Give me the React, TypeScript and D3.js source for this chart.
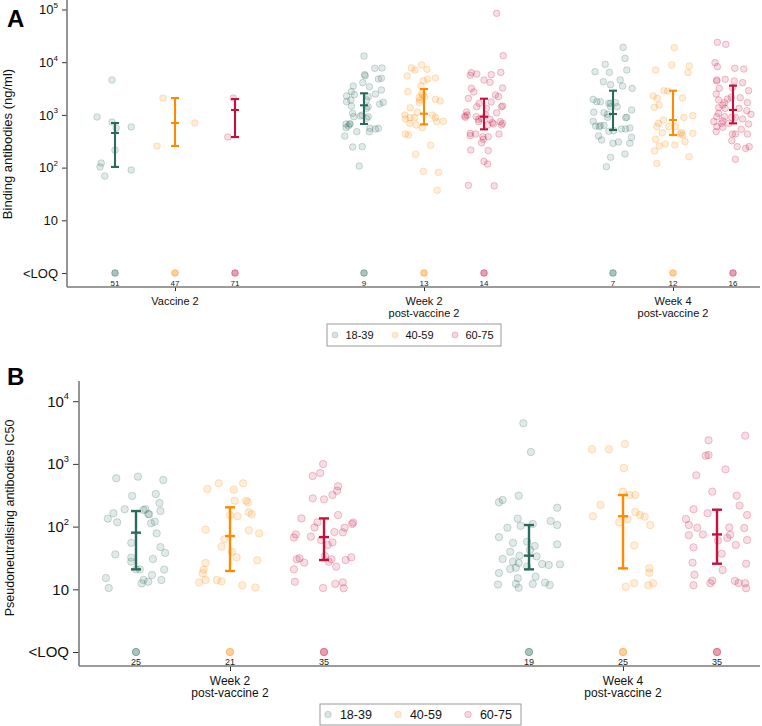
import React, { useEffect, useRef } from "react";
import * as d3 from "d3";

const FONT = "'Liberation Sans', Arial, Helvetica, sans-serif";

const ageGroups = ["18-39", "40-59", "60-75"];
const ageColors = ["#2b6b5e", "#ff8a00", "#c8103e"];

// ---- Panel A: binding antibodies (ng/ml) ----
const bindingVisits = [["Vaccine 2"], ["Week 2", "post-vaccine 2"], ["Week 4", "post-vaccine 2"]];
const bindingLoqCounts = [[51, 47, 71], [9, 13, 14], [7, 12, 16]];
const bindingMedian = [[454, 702, 1240], [1520, 1055, 925], [1040, 800, 1240]];
const bindingQ1 = [[103, 257, 380], [672, 662, 532], [517, 415, 691]];
const bindingQ3 = [[702, 2090, 2000], [2570, 3100, 2030], [2880, 2880, 3590]];

// points are [jitter, value]
const bindingV2_18 = [[-0.3, 912], [-0.05, 4600], [-0.05, 733], [0.02, 565], [0.27, 590], [0, 215], [-0.23, 122], [-0.25, 103], [-0.17, 69], [0.27, 90]];
const bindingV2_40 = [[-0.2, 2090], [-0.3, 257], [0.33, 702]];
const bindingV2_60 = [[-0.03, 2090], [-0.12, 380]];

const bindingW2_18 = [[0, 13100], [0.18, 7650], [0.3, 7760], [0.01, 5800], [0.02, 5540], [0.24, 4800], [0.29, 4940], [-0.02, 4090], [-0.18, 3530], [0.09, 3430], [-0.21, 2760], [-0.16, 2420], [-0.29, 2290], [0.29, 2970], [0.19, 2490], [-0.22, 1920], [-0.29, 1780], [0.07, 2220], [0.04, 1920], [0.32, 1730], [0.26, 1610], [0.07, 1430], [-0.21, 1470], [0.04, 1330], [-0.19, 1070], [-0.03, 995], [-0.17, 925], [0.04, 861], [0.07, 925], [-0.06, 953], [-0.24, 672], [-0.3, 672], [-0.26, 615], [0.1, 556], [0.24, 556], [0.19, 540], [-0.3, 573], [0.09, 481], [-0.12, 481], [-0.32, 398], [-0.19, 246], [-0.03, 250], [-0.08, 107], [-0.23, 672]];
const bindingW2_40 = [[-0.04, 8850], [-0.21, 7760], [-0.15, 7110], [0.05, 7330], [-0.28, 5470], [0.19, 5010], [-0.01, 4460], [0.06, 4730], [-0.05, 3530], [-0.27, 2760], [-0.04, 2570], [-0.08, 2150], [-0.07, 1920], [-0.08, 1710], [0.19, 1970], [0.27, 1840], [-0.23, 1370], [-0.11, 1120], [-0.32, 995], [-0.31, 836], [-0.23, 887], [-0.16, 887], [0.14, 995], [0.19, 887], [0.21, 744], [0.32, 755], [-0.24, 691], [-0.13, 643], [-0.03, 573], [-0.31, 434], [-0.26, 415], [0.11, 265], [-0.14, 179], [-0.01, 85], [0.24, 81], [0.22, 37], [-0.02, 2390], [0.01, 2220]];
const bindingW2_60 = [[0.21, 84600], [0.32, 13300], [-0.21, 6330], [-0.12, 5970], [-0.23, 5640], [0.28, 6410], [0, 4590], [0.12, 5800], [0.1, 4150], [0.31, 3240], [-0.21, 3190], [-0.17, 2720], [0.19, 2390], [-0.26, 2060], [0.12, 1760], [0.24, 2220], [-0.08, 1660], [-0.12, 1430], [0.31, 1470], [0.29, 1430], [0.04, 1330], [-0.29, 1135], [-0.32, 953], [-0.13, 925], [-0.09, 824], [0.1, 824], [0.21, 1100], [-0.28, 995], [0.03, 995], [0.27, 744], [0.29, 643], [0.31, 691], [0.14, 711], [0.06, 643], [-0.09, 744], [-0.23, 447], [-0.14, 434], [-0.02, 386], [0.07, 386], [-0.23, 404], [0.25, 434], [-0.01, 344], [-0.04, 297], [-0.22, 216], [0.07, 210], [0, 131], [0.06, 117], [-0.26, 46], [0.17, 45], [-0.04, 861], [0.16, 672], [-0.31, 899]];

const bindingW4_18 = [[0.17, 19100], [0.2, 11800], [-0.13, 9110], [-0.3, 6610], [-0.06, 6420], [0.23, 7110], [-0.16, 4270], [0.12, 4590], [0.16, 3530], [-0.04, 3750], [0.32, 3190], [-0.33, 1970], [-0.27, 1780], [-0.21, 1780], [-0.07, 1660], [-0.04, 1660], [0.07, 1430], [-0.04, 1430], [0.04, 1710], [0.31, 1240], [-0.32, 1120], [-0.15, 1100], [-0.09, 899], [0.21, 887], [0.23, 899], [-0.33, 755], [-0.29, 615], [-0.21, 625], [-0.23, 598], [-0.15, 634], [-0.07, 488], [0.01, 502], [0.14, 540], [0.21, 540], [0.28, 564], [-0.24, 398], [-0.19, 334], [0.31, 375], [0, 289], [0.09, 306], [0.28, 289], [0.2, 181], [-0.04, 157], [-0.11, 104], [-0.09, 1025]];
const bindingW4_40 = [[0.02, 18900], [-0.02, 8850], [-0.29, 7110], [0.27, 8470], [0.25, 6330], [-0.15, 2880], [-0.09, 2840], [-0.33, 2290], [-0.26, 2060], [0.16, 2090], [-0.23, 1540], [-0.31, 1390], [0.18, 899], [0.33, 967], [-0.16, 800], [-0.24, 691], [-0.27, 598], [-0.07, 598], [0.04, 598], [-0.18, 460], [0.14, 460], [0.16, 415], [0.12, 434], [0.33, 447], [-0.29, 344], [-0.23, 257], [-0.13, 281], [0.03, 268], [0.2, 311], [-0.31, 207], [0.27, 161], [-0.27, 120]];
const bindingW4_60 = [[-0.26, 23800], [-0.12, 21800], [-0.3, 9800], [-0.26, 8230], [0.03, 7650], [0.18, 7430], [-0.27, 4590], [-0.13, 4730], [0.02, 4400], [0.16, 4090], [-0.23, 3190], [-0.01, 3290], [-0.28, 2490], [-0.03, 2150], [0.26, 2880], [-0.24, 1920], [-0.14, 1710], [-0.09, 2000], [0.12, 2120], [-0.24, 1370], [-0.13, 1330], [-0.17, 1540], [-0.24, 1070], [-0.27, 925], [-0.14, 925], [-0.02, 899], [0.1, 1330], [0.23, 1200], [0.24, 1710], [0.3, 1025], [-0.32, 744], [-0.17, 766], [-0.07, 691], [0.04, 899], [0.16, 836], [0.26, 672], [-0.27, 598], [-0.17, 581], [-0.28, 481], [-0.01, 434], [0.04, 434], [0.24, 434], [0.14, 532], [-0.02, 324], [0.07, 250], [0.27, 250], [0.21, 232], [0.04, 144], [-0.19, 691], [-0.27, 4400]];

// ---- Panel B: pseudoneutralising antibodies IC50 ----
const neutVisits = [["Week 2", "post-vaccine 2"], ["Week 4", "post-vaccine 2"]];
const neutLoqCounts = [[25, 21, 35], [19, 25, 35]];
const neutMedian = [[80, 70.8, 68], [34.4, 146, 75]];
const neutQ1 = [[20.8, 19.6, 29.3], [20.8, 21.6, 25.6]];
const neutQ3 = [[177, 203, 135], [106, 319, 186]];

const neutW2_18 = [[-0.21, 589], [0.02, 626], [0.29, 554], [-0.04, 308], [0.21, 331], [0.25, 238], [-0.12, 189], [-0.24, 163], [-0.3, 134], [-0.2, 117], [0.08, 184], [0.1, 189], [0.13, 159], [0.14, 157], [0.26, 177], [0.16, 113], [0.2, 120], [0.22, 78], [-0.05, 55], [0.26, 47], [0.31, 38], [-0.22, 36], [-0.05, 32], [-0.05, 27.6], [0.18, 30.4], [0.3, 20.6], [0.04, 20.8], [0, 20.8], [0.17, 16.9], [0.08, 14.1], [0.06, 12.4], [0.13, 13.2], [0.27, 14.1], [-0.32, 15.1], [-0.29, 10.5]];
const neutW2_40 = [[-0.12, 490], [0.14, 490], [-0.24, 398], [0.04, 388], [0.05, 259], [0.17, 259], [0.19, 244], [0, 153], [0.08, 146], [0.2, 169], [0.23, 157], [-0.26, 89], [0.2, 87], [0.31, 78], [-0.06, 62.7], [-0.09, 47.9], [0.02, 39.8], [0.07, 32.4], [-0.26, 26.3], [0.29, 29], [-0.28, 20.6], [-0.29, 18], [-0.26, 14.1], [-0.33, 12.9], [-0.14, 14.1], [-0.09, 13.4], [0.13, 11.6], [0.27, 10.7]];
const neutW2_60 = [[-0.01, 996], [-0.04, 716], [-0.12, 641], [0.15, 439], [0.14, 374], [0.09, 319], [-0.12, 282], [0, 272], [0.15, 153], [-0.24, 135], [-0.07, 117], [-0.1, 97], [0.31, 116], [0.3, 110], [0.11, 82], [0.2, 81], [0.22, 96], [-0.3, 75], [-0.32, 67], [-0.14, 69], [-0.03, 61], [0.09, 56], [0.04, 51], [-0.29, 30.1], [-0.26, 31.2], [-0.21, 26.6], [0.01, 34], [0.08, 30.1], [0.23, 29.3], [0.29, 32.4], [0.05, 27.6], [0.13, 23], [-0.32, 20.8], [-0.31, 13.2], [-0.01, 10.5], [0.12, 12.2], [0.2, 12.9], [0.21, 10.4]];

const neutW4_18 = [[-0.06, 4440], [0.02, 1549], [-0.11, 311], [-0.32, 244], [-0.28, 266], [0.3, 200], [-0.12, 134], [0.23, 123], [0.3, 106], [-0.09, 103], [0.04, 110], [-0.23, 96], [-0.32, 68], [-0.17, 55], [-0.02, 57.5], [0.06, 49], [0.3, 52], [-0.2, 39.8], [0.01, 42.4], [0.08, 33.5], [-0.1, 34.4], [-0.28, 30.4], [-0.17, 27.6], [-0.11, 26.3], [0.14, 25.3], [0.21, 24.4], [0.33, 25], [-0.2, 21.1], [-0.14, 22.1], [-0.02, 23], [-0.32, 18.2], [-0.12, 15], [0.07, 15.9], [-0.33, 11.9], [-0.14, 12.2], [-0.11, 10.6], [0.04, 12.2], [0.17, 12.8], [0.22, 11.7]];
const neutW4_40 = [[-0.33, 1708], [-0.15, 1708], [0.02, 2077], [0.01, 860], [0, 361], [0.07, 319], [0.13, 319], [-0.24, 221], [-0.32, 146], [0.13, 171], [0.18, 153], [0.23, 144], [0.05, 131], [-0.04, 117], [0.29, 106], [0.12, 50], [0.28, 21.6], [0.28, 18.4], [0.03, 11], [0.12, 12.5], [0.27, 11.6], [0.32, 12.5]];
const neutW4_60 = [[0.3, 2820], [-0.09, 2377], [-0.12, 1353], [-0.09, 1387], [0.09, 819], [-0.22, 657], [-0.05, 361], [0.21, 311], [0.24, 216], [-0.25, 189], [-0.1, 163], [0.32, 153], [-0.33, 132], [-0.3, 106], [-0.21, 96], [0.13, 97], [0.29, 95], [-0.3, 73], [-0.15, 75], [0.01, 60], [0.11, 66], [0.14, 74], [0.32, 61], [0.2, 51], [-0.25, 46.7], [0.05, 37], [-0.26, 26.6], [0.06, 20.3], [0.31, 25.6], [-0.24, 17.1], [-0.25, 11.6], [-0.07, 12.5], [-0.05, 13.7], [0.19, 13.6], [0.23, 12.6], [0.3, 12.5], [0.31, 10.4]];

const panels = [
  {
    label: "A", labelY: 27,
    title: "Binding antibodies (ng/ml)", titleX: 11.5, titleY: 144, titleFont: 13,
    axisX: 67, axisTop: 0, axisBottom: 287, right: 760,
    loqY: 273, topTickY: 9.5, maxTick: 1e5,
    xRange: [175, 673], groupStep: 60,
    visits: bindingVisits,
    points: [[bindingV2_18, bindingV2_40, bindingV2_60], [bindingW2_18, bindingW2_40, bindingW2_60], [bindingW4_18, bindingW4_40, bindingW4_60]],
    median: bindingMedian, q1: bindingQ1, q3: bindingQ3, counts: bindingLoqCounts,
    tickLen: 5, tickFont: 13, catFont: 11, catY: 304.5, catLine: 12, countFont: 8, countY: 285.5,
    r: 3.3, capHalf: 4, barWidth: 2.1,
    legend: { x: 327, y: 324, w: 174, h: 22, step: 60, font: 11, r: 3 },
  },
  {
    label: "B", labelY: 385,
    title: "Pseudoneutralising antibodies IC50", titleX: 13.5, titleY: 518, titleFont: 12.5,
    axisX: 79, axisTop: 381, axisBottom: 666, right: 760,
    loqY: 652, topTickY: 401.2, maxTick: 1e4,
    xRange: [230, 623], groupStep: 94,
    visits: neutVisits,
    points: [[neutW2_18, neutW2_40, neutW2_60], [neutW4_18, neutW4_40, neutW4_60]],
    median: neutMedian, q1: neutQ1, q3: neutQ3, counts: neutLoqCounts,
    tickLen: 6, tickFont: 15, catFont: 12, catY: 684.5, catLine: 12.5, countFont: 9, countY: 665,
    r: 3.7, capHalf: 5, barWidth: 2.4,
    legend: { x: 320, y: 704, w: 201, h: 21, step: 70, font: 12.5, r: 3.3 },
  },
];

function drawPanel(svg: any, p: any) {
  const g = svg.append("g");
  const y = d3.scaleLog().domain([1, p.maxTick]).range([p.loqY, p.topTickY]);
  const x = d3.scalePoint<number>().domain(d3.range(p.visits.length)).range(p.xRange);
  const off = d3.scalePoint<string>().domain(ageGroups).range([-p.groupStep, p.groupStep]);
  const ticks = d3.range(0, Math.round(Math.log10(p.maxTick)) + 1).map((e) => Math.pow(10, e));

  // y axis
  const yAxis = g.append("g").attr("transform", `translate(${p.axisX},0)`)
    .call(d3.axisLeft(y).tickValues(ticks).tickSize(p.tickLen).tickFormat(() => ""));
  yAxis.select(".domain").remove();
  yAxis.selectAll(".tick text").remove();
  yAxis.selectAll(".tick line").attr("stroke", "#333").attr("stroke-width", 1);

  ticks.forEach((t) => {
    const e = Math.round(Math.log10(t));
    const txt = g.append("text")
      .attr("x", p.axisX - p.tickLen - 4)
      .attr("y", y(t))
      .attr("dy", "0.36em")
      .attr("text-anchor", "end")
      .attr("font-size", p.tickFont)
      .attr("fill", "#111");
    if (e === 0) txt.text("<LOQ");
    else if (e === 1) txt.text("10");
    else {
      txt.append("tspan").text("10");
      txt.append("tspan").attr("font-size", p.tickFont * 0.62).attr("dy", -p.tickFont * 0.48).text(String(e));
    }
  });

  // x axis ticks
  const xAxis = g.append("g").attr("transform", `translate(0,${p.axisBottom})`)
    .call(d3.axisBottom(x).tickSize(p.tickLen - 1).tickFormat(() => ""));
  xAxis.select(".domain").remove();
  xAxis.selectAll(".tick line").attr("stroke", "#333");

  // axis lines
  g.append("line").attr("x1", p.axisX).attr("x2", p.axisX).attr("y1", p.axisTop).attr("y2", p.axisBottom)
    .attr("stroke", "#7a7a7a").attr("stroke-width", 1.6);
  g.append("line").attr("x1", p.axisX).attr("x2", p.right).attr("y1", p.axisBottom).attr("y2", p.axisBottom)
    .attr("stroke", "#7a7a7a").attr("stroke-width", 1.6);

  // category labels
  p.visits.forEach((lines: string[], i: number) => {
    lines.forEach((ln, li) => {
      g.append("text")
        .attr("x", x(i))
        .attr("y", p.catY + li * p.catLine)
        .attr("text-anchor", "middle")
        .attr("font-size", p.catFont)
        .attr("fill", "#111")
        .text(ln);
    });
  });

  // jittered points
  p.visits.forEach((_: any, i: number) => {
    ageGroups.forEach((age, j) => {
      const cx0 = (x(i) as number) + (off(age) as number);
      g.append("g").selectAll("circle")
        .data(p.points[i][j])
        .join("circle")
        .attr("cx", (d: number[]) => cx0 + d[0] * p.groupStep)
        .attr("cy", (d: number[]) => y(d[1]))
        .attr("r", p.r)
        .attr("fill", ageColors[j])
        .attr("fill-opacity", 0.14)
        .attr("stroke", ageColors[j])
        .attr("stroke-opacity", 0.26)
        .attr("stroke-width", 0.9);
    });
  });

  // median and IQR bars, LOQ dots, counts
  p.visits.forEach((_: any, i: number) => {
    ageGroups.forEach((age, j) => {
      const cx = (x(i) as number) + (off(age) as number);
      const col = ageColors[j];
      const yq1 = y(p.q1[i][j]);
      const yq3 = y(p.q3[i][j]);
      const ym = y(p.median[i][j]);
      const bar = g.append("g").attr("stroke", col).attr("stroke-width", p.barWidth);
      bar.append("line").attr("x1", cx).attr("x2", cx).attr("y1", yq1).attr("y2", yq3);
      [yq1, yq3, ym].forEach((yy) => {
        bar.append("line").attr("x1", cx - p.capHalf).attr("x2", cx + p.capHalf).attr("y1", yy).attr("y2", yy);
      });

      g.append("circle")
        .attr("cx", cx).attr("cy", p.loqY).attr("r", p.r)
        .attr("fill", col).attr("fill-opacity", 0.4)
        .attr("stroke", col).attr("stroke-opacity", 0.5).attr("stroke-width", 0.9);
      g.append("text")
        .attr("x", cx).attr("y", p.countY)
        .attr("text-anchor", "middle")
        .attr("font-size", p.countFont)
        .attr("fill", "#222")
        .text(p.counts[i][j]);
    });
  });

  // y title
  g.append("text")
    .attr("transform", `translate(${p.titleX},${p.titleY}) rotate(-90)`)
    .attr("text-anchor", "middle")
    .attr("font-size", p.titleFont)
    .attr("fill", "#111")
    .text(p.title);

  // panel letter
  g.append("text")
    .attr("x", 7).attr("y", p.labelY)
    .attr("font-size", 24).attr("font-weight", "bold")
    .attr("fill", "#000")
    .text(p.label);

  // legend
  const L = p.legend;
  const leg = g.append("g");
  leg.append("rect").attr("x", L.x).attr("y", L.y).attr("width", L.w).attr("height", L.h)
    .attr("fill", "#fff").attr("stroke", "#9a9a9a").attr("stroke-width", 1);
  ageGroups.forEach((age, j) => {
    const lx = L.x + 8 + j * L.step;
    leg.append("circle").attr("cx", lx).attr("cy", L.y + L.h / 2).attr("r", L.r)
      .attr("fill", ageColors[j]).attr("fill-opacity", 0.18)
      .attr("stroke", ageColors[j]).attr("stroke-opacity", 0.2);
    leg.append("text").attr("x", lx + L.font * 0.95).attr("y", L.y + L.h / 2).attr("dy", "0.36em")
      .attr("font-size", L.font).attr("fill", "#111").text(age);
  });
}

export default function App() {
  const ref = useRef<SVGSVGElement>(null);

  useEffect(() => {
    const svg = d3.select(ref.current);
    svg.selectAll("*").remove();
    panels.forEach((p) => drawPanel(svg, p));
  }, []);

  return (
    <svg
      ref={ref}
      width={762}
      height={726}
      style={{ position: "absolute", left: 0, top: 0, background: "#fff", fontFamily: FONT }}
    />
  );
}
